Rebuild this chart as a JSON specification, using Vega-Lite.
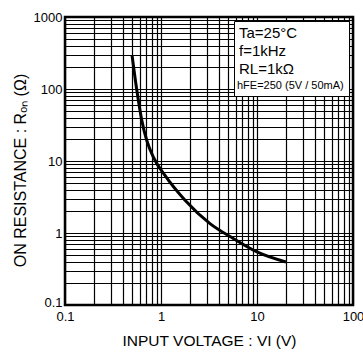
{
  "$schema": "https://vega.github.io/schema/vega-lite/v6.json",
  "width": 288,
  "height": 288,
  "autosize": "none",
  "padding": {"left": 65, "top": 17, "right": 10, "bottom": 49},
  "background": "white",
  "config": {
    "font": "Liberation Sans",
    "view": {"stroke": "black", "strokeWidth": 2.5},
    "axis": {"labelColor": "black", "titleColor": "black", "titleFontWeight": "normal"}
  },
  "data": {
    "values": [
      {"V": 0.5, "R": 290, "cond": "hFE=250 (5V / 50mA)"},
      {"V": 0.56, "R": 96, "cond": "hFE=250 (5V / 50mA)"},
      {"V": 0.63, "R": 37, "cond": "hFE=250 (5V / 50mA)"},
      {"V": 0.71, "R": 19.4, "cond": "hFE=250 (5V / 50mA)"},
      {"V": 0.83, "R": 11.4, "cond": "hFE=250 (5V / 50mA)"},
      {"V": 1.1, "R": 6.3, "cond": "hFE=250 (5V / 50mA)"},
      {"V": 1.78, "R": 2.85, "cond": "hFE=250 (5V / 50mA)"},
      {"V": 3.24, "R": 1.35, "cond": "hFE=250 (5V / 50mA)"},
      {"V": 5.66, "R": 0.84, "cond": "hFE=250 (5V / 50mA)"},
      {"V": 10, "R": 0.545, "cond": "hFE=250 (5V / 50mA)"},
      {"V": 20, "R": 0.395, "cond": "hFE=250 (5V / 50mA)"}
    ]
  },
  "mark": {"type": "line", "strokeWidth": 3, "interpolate": "monotone"},
  "encoding": {
    "x": {
      "field": "V",
      "type": "quantitative",
      "scale": {"type": "log", "domain": [0.1, 100], "nice": false},
      "axis": {
        "title": "INPUT VOLTAGE : VI (V)",
        "titleFontSize": 15.5,
        "titlePadding": 10,
        "values": [0.1, 0.2, 0.3, 0.4, 0.5, 0.6, 0.7, 0.8, 0.9, 1, 2, 3, 4, 5, 6, 7, 8, 9, 10, 20, 30, 40, 50, 60, 70, 80, 90, 100],
        "labelExpr": "abs(log(datum.value)/LN10 - round(log(datum.value)/LN10)) < 0.000001 ? format(datum.value, '~g') : ''",
        "labelFontSize": 13,
        "labelPadding": 5,
        "labelOverlap": false,
        "labelBound": false,
        "labelFlush": false,
        "grid": true,
        "gridColor": "black",
        "gridOpacity": 1,
        "gridWidth": 1.2,
        "ticks": false,
        "domain": false
      }
    },
    "y": {
      "field": "R",
      "type": "quantitative",
      "scale": {"type": "log", "domain": [0.1, 1000], "nice": false},
      "axis": {
        "title": "ON RESISTANCE : Rₒₙ (Ω)",
        "titleFontSize": 16,
        "titlePadding": 5,
        "titleY": 153,
        "values": [0.1, 0.2, 0.3, 0.4, 0.5, 0.6, 0.7, 0.8, 0.9, 1, 2, 3, 4, 5, 6, 7, 8, 9, 10, 20, 30, 40, 50, 60, 70, 80, 90, 100, 200, 300, 400, 500, 600, 700, 800, 900, 1000],
        "labelExpr": "abs(log(datum.value)/LN10 - round(log(datum.value)/LN10)) < 0.000001 ? format(datum.value, '~g') : ''",
        "labelFontSize": 13,
        "labelPadding": 3,
        "labelOffset": {"condition": {"test": "datum.value < 0.15", "value": -3}, "value": 0},
        "labelOverlap": false,
        "labelBound": false,
        "labelFlush": false,
        "grid": true,
        "gridColor": "black",
        "gridOpacity": 1,
        "gridWidth": 1.2,
        "ticks": false,
        "domain": false
      }
    },
    "color": {
      "field": "cond",
      "type": "nominal",
      "scale": {"range": ["black"]},
      "legend": {
        "title": ["Ta=25°C", "f=1kHz", "RL=1kΩ"],
        "orient": "top-right",
        "offset": 4,
        "fillColor": "white",
        "strokeColor": "black",
        "padding": 5,
        "titleFontSize": 15,
        "titleFontWeight": "normal",
        "titleColor": "black",
        "titleLineHeight": 18,
        "titlePadding": 3,
        "labelFontSize": 11,
        "labelColor": "black",
        "labelOffset": -13,
        "symbolType": "circle",
        "symbolSize": 0,
        "symbolStrokeWidth": 0,
        "symbolOpacity": 0,
        "labelLimit": 200
      }
    }
  }
}
